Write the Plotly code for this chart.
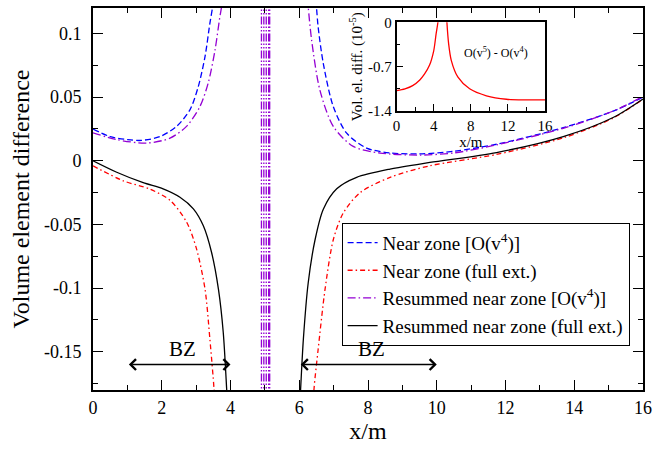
import plotly.graph_objects as go

# ---------------- data ----------------
# Near zone [O(v^4)]  (blue dashed)
blue_x_left = [0, 0.5, 1.0, 1.4, 1.95, 2.43, 2.82, 3.06, 3.26, 3.40, 3.48, 3.56]
blue_y_left = [0.025, 0.019, 0.0167, 0.016, 0.019, 0.027, 0.040, 0.058, 0.082, 0.108, 0.121, 0.14]
blue_x_right = [6.44, 6.50, 6.55, 6.70, 6.99, 7.38, 7.96, 8.63, 9.5, 10.5, 11.74, 13.68, 15.13, 16]
blue_y_right = [0.14, 0.121, 0.105, 0.0764, 0.0426, 0.0217, 0.010, 0.0062, 0.0054, 0.0075, 0.013, 0.026, 0.039, 0.050]

# Near zone (full ext.)  (red dash-dot)
red_x_left = [0, 0.88, 1.66, 2.24, 2.72, 3.01, 3.26, 3.40, 3.52, 3.56]
red_y_left = [-0.004, -0.0157, -0.0223, -0.031, -0.048, -0.069, -0.101, -0.140, -0.179, -0.20]
red_x_right = [6.39, 6.43, 6.55, 6.75, 6.99, 7.28, 7.77, 8.64, 9.8, 11.74, 13.68, 15.13, 16]
red_y_right = [-0.20, -0.179, -0.148, -0.101, -0.062, -0.041, -0.025, -0.013, -0.0039, 0.005, 0.018, 0.0335, 0.0484]

# Resummed near zone [O(v^4)]  (violet dash-dot)
vio_x_left = [0, 0.69, 1.56, 2.24, 2.72, 3.11, 3.35, 3.55, 3.69, 3.74, 3.81]
vio_y_left = [0.022, 0.0166, 0.0139, 0.0178, 0.027, 0.0426, 0.061, 0.087, 0.113, 0.121, 0.14]
vio_x_right = [6.20, 6.26, 6.36, 6.60, 6.99, 7.57, 8.35, 9.5, 10.5, 11.74, 13.68, 15.13, 16]
vio_y_right = [0.14, 0.121, 0.0947, 0.0556, 0.027, 0.0113, 0.0061, 0.0045, 0.0062, 0.0125, 0.0255, 0.039, 0.0505]
vio_spikes_x = [4.90, 4.97, 5.04, 5.11, 5.14]

# Resummed near zone (full ext.)  (black solid)
blk_x_left = [0, 0.69, 1.46, 2.04, 2.53, 2.92, 3.21, 3.45, 3.65, 3.79, 3.89, 3.93]
blk_y_left = [0, -0.009, -0.0172, -0.022, -0.0286, -0.0377, -0.051, -0.072, -0.101, -0.135, -0.180, -0.20]
blk_x_right = [6.0, 6.04, 6.12, 6.26, 6.46, 6.70, 7.09, 7.67, 8.64, 9.8, 11.74, 13.68, 15.13, 16]
blk_y_right = [-0.20, -0.179, -0.140, -0.096, -0.062, -0.038, -0.022, -0.013, -0.0065, -0.0013, 0.0065, 0.019, 0.034, 0.0486]

# Inset: O(v^5) - O(v^4)
ins_x_left = [0, 0.9, 1.73, 2.5, 3.0, 3.54, 4.0, 4.26, 4.45, 4.52]
ins_y_left = [-1.08, -1.05, -1.0, -0.91, -0.82, -0.68, -0.45, -0.18, 0, 0.2]
ins_x_right = [5.35, 5.42, 5.60, 5.89, 6.61, 7.87, 9.68, 11.84, 14, 16]
ins_y_right = [0.2, 0, -0.33, -0.60, -0.866, -1.05, -1.16, -1.215, -1.225, -1.225]

# tick labels
x_ticks = [0, 2, 4, 6, 8, 10, 12, 14, 16]
y_ticks = [-0.15, -0.1, -0.05, 0, 0.05, 0.1]
y_ticktext = ["-0.15", "-0.1", "-0.05", "0", "0.05", "0.1"]
ix_ticks = [0, 4, 8, 12, 16]
iy_ticks = [-1.4, -0.7, 0]
iy_ticktext = ["-1.4", "-0.7", "0"]

# BZ arrows (start, end) and level
bz_left = (1.0, 4.0)
bz_right = (6.0, 10.0)
bz_level = -0.16

FONT = "Times New Roman, Liberation Serif, serif"
BLUE = "#0000ff"
RED = "#ff0000"
VIOLET = "#9400d3"


def join(xl, yl, xr, yr):
    return list(xl) + [None] + list(xr), list(yl) + [None] + list(yr)


fig = go.Figure()

bx, by = join(blue_x_left, blue_y_left, blue_x_right, blue_y_right)
fig.add_trace(go.Scatter(x=bx, y=by, mode="lines", name="Near zone [O(v<sup>4</sup>)]",
                         line=dict(color=BLUE, width=1.3, dash="6px,3px", shape="spline", smoothing=0.8)))
rx, ry = join(red_x_left, red_y_left, red_x_right, red_y_right)
fig.add_trace(go.Scatter(x=rx, y=ry, mode="lines", name="Near zone (full ext.)",
                         line=dict(color=RED, width=1.3, dash="5px,3px,1.5px,3px", shape="spline", smoothing=0.8)))
vx, vy = join(vio_x_left, vio_y_left, vio_x_right, vio_y_right)
fig.add_trace(go.Scatter(x=vx, y=vy, mode="lines", name="Resummed near zone [O(v<sup>4</sup>)]",
                         line=dict(color=VIOLET, width=1.3, dash="8px,3px,1.5px,3px", shape="spline", smoothing=0.8)))
sx, sy = [], []
for xv in vio_spikes_x:
    sx += [xv, xv, None]
    sy += [-0.2, 0.2, None]
fig.add_trace(go.Scatter(x=sx, y=sy, mode="lines", showlegend=False,
                         line=dict(color=VIOLET, width=1.3, dash="8px,2px,1.5px,2px,1.5px,2px")))
kx, ky = join(blk_x_left, blk_y_left, blk_x_right, blk_y_right)
fig.add_trace(go.Scatter(x=kx, y=ky, mode="lines", name="Resummed near zone (full ext.)",
                         line=dict(color="black", width=1.3, shape="spline", smoothing=0.8)))

ix, iy = join(ins_x_left, ins_y_left, ins_x_right, ins_y_right)
fig.add_trace(go.Scatter(x=ix, y=iy, mode="lines", showlegend=False, xaxis="x2", yaxis="y2",
                         line=dict(color=RED, width=1.3, shape="spline", smoothing=0.8)))

axis_common = dict(showgrid=False, zeroline=False, showline=True, linecolor="black",
                   ticks="inside", tickcolor="black", automargin=False)

fig.update_layout(
    width=655, height=450,
    margin=dict(l=93, r=12, t=8, b=60),
    paper_bgcolor="white", plot_bgcolor="white",
    font=dict(family=FONT, color="black"),
    xaxis=dict(**axis_common, range=[0, 16], tickvals=x_ticks, ticklen=10, tickwidth=1.3,
               linewidth=2, mirror="allticks",
               minor=dict(ticks="inside", ticklen=5, tickmode="linear", tick0=0, dtick=1,
                          tickcolor="black", tickwidth=1.3),
               tickfont=dict(family=FONT, size=18),
               title=dict(text="x/m", font=dict(family=FONT, size=24), standoff=6)),
    yaxis=dict(**axis_common, range=[-0.18, 0.12], tickvals=y_ticks, ticktext=y_ticktext,
               ticklen=10, tickwidth=1.3, linewidth=2, mirror="allticks",
               minor=dict(ticks="inside", ticklen=5, tickmode="linear", tick0=0, dtick=0.025,
                          tickcolor="black", tickwidth=1.3),
               tickfont=dict(family=FONT, size=18), ticklabelstandoff=6,
               title=dict(text="Volume element difference", font=dict(family=FONT, size=24), standoff=8)),
    xaxis2=dict(**axis_common, domain=[0.552, 0.822], anchor="y2", range=[0, 16],
                tickvals=ix_ticks, ticklen=7, linewidth=1.5, mirror=True,
                minor=dict(ticks="inside", ticklen=4, tickmode="linear", tick0=0, dtick=2,
                           tickcolor="black"),
                tickfont=dict(family=FONT, size=15),
                title=dict(text="x/m", font=dict(family=FONT, size=15), standoff=0)),
    yaxis2=dict(**axis_common, domain=[0.7304, 0.9626], anchor="x2", range=[-1.4, 0],
                tickvals=iy_ticks, ticktext=iy_ticktext, ticklen=7, linewidth=1.5, mirror=True,
                minor=dict(ticks="inside", ticklen=4, tickmode="linear", tick0=0, dtick=0.35,
                           tickcolor="black"),
                tickfont=dict(family=FONT, size=15),
                title=dict(text="Vol. el. diff. (10<sup>-5</sup>)", font=dict(family=FONT, size=15), standoff=2)),
    legend=dict(x=0.452, y=0.438, xanchor="left", yanchor="top", bgcolor="white",
                bordercolor="black", borderwidth=1, font=dict(family=FONT, size=19),
                itemwidth=30, tracegroupgap=0),
    showlegend=True,
)

for (a, b) in (bz_left, bz_right):
    fig.add_annotation(x=b, y=bz_level, ax=a, ay=bz_level, xref="x", yref="y", axref="x", ayref="y",
                       text="", showarrow=True, arrowside="end+start", arrowhead=4, startarrowhead=4,
                       arrowsize=1.4, startarrowsize=1.4, arrowwidth=1.5, arrowcolor="black")
    fig.add_annotation(x=(a + b) / 2 + 0.1, y=bz_level + 0.012, xref="x", yref="y", text="BZ",
                       showarrow=False, font=dict(family=FONT, size=21), yanchor="middle")

fig.add_annotation(x=10.7, y=-0.47, xref="x2", yref="y2", text="O(v<sup>5</sup>) - O(v<sup>4</sup>)",
                   showarrow=False, font=dict(family=FONT, size=12))

fig.write_html("out.html")
